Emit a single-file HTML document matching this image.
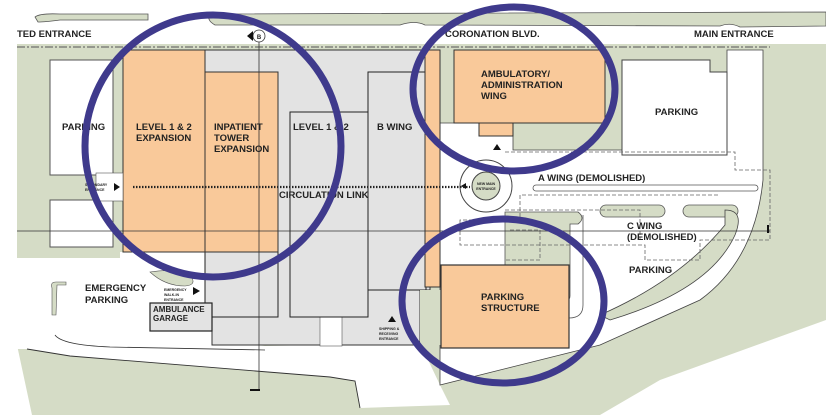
<!DOCTYPE html>
<html><head><meta charset="utf-8"><style>
html,body{margin:0;padding:0;background:#fff;width:826px;height:415px;overflow:hidden}
svg text{font-family:"Liberation Sans",Arial,sans-serif;font-weight:bold;fill:#222}
</style></head><body>
<svg width="826" height="415" viewBox="0 0 826 415" xmlns="http://www.w3.org/2000/svg">
<rect width="826" height="415" fill="#fff"/>
<path d="M35 17 Q40 13 60 14 L148 14 L148 20 L60 20 Q45 22 38 22 Z" fill="#d5dcc6" stroke="#555" stroke-width="0.8"/>
<path d="M210 14 L826 12 L826 26 L740 27 Q730 22 720 26 L425 25 Q415 20 400 25 L215 25 Q206 20 210 14 Z" fill="#d5dcc6" stroke="#555" stroke-width="0.8"/>
<path d="M17 44 L826 44 L826 320 L660 380 L600 415 L32 415 L17 345 Z" fill="#d5dcc6"/>
<path d="M17 258 L120 258 L120 252 L212 252 L212 345 L17 345 Z" fill="#fff"/>
<path d="M17 340 L212 340 L265 346 L420 343 L440 385 L450 405 L360 408 L355 381 L330 377 L70 356 L27 349 L17 349 Z" fill="#fff"/>
<path d="M27 349 L70 356 L330 377 L355 381 L360 408" fill="none" stroke="#333" stroke-width="0.9"/>
<path d="M52 288 Q50 282 56 282 L66 282 L66 285 L57 285 L56 315 L52 315 Z" fill="#d5dcc6" stroke="#555" stroke-width="0.6"/>
<path d="M150 272 Q175 268 190 275 Q198 285 185 286 Q165 286 150 272 Z" fill="#d5dcc6" stroke="#555" stroke-width="0.6"/>
<path d="M55 335 Q62 345 110 347 L265 350" fill="none" stroke="#333" stroke-width="0.8"/>
<path d="M440 123 L513 123 L513 150 L727 150 L727 50 L763 50 L763 180 Q755 260 700 300 L600 345 L440 385 Z" fill="#fff" stroke="#444" stroke-width="0.8"/>
<path d="M50 60 L113 60 L113 175 L50 175 Z" fill="#fff" stroke="#555" stroke-width="1"/>
<path d="M50 200 L113 200 L113 247 L50 247 Z" fill="#fff" stroke="#555" stroke-width="1"/>
<line x1="17" y1="47" x2="770" y2="47" stroke="#555" stroke-width="1" stroke-dasharray="8,2,2,2"/>
<path d="M205 50 L430 50 L430 290 L420 290 L420 345 L212 345 L212 330 L205 330 Z" fill="#e3e3e3" stroke="#333" stroke-width="1"/>
<rect x="320" y="315" width="22" height="31" fill="#fff" stroke="#555" stroke-width="0.6"/>
<rect x="290" y="112" width="78" height="205" fill="#e3e3e3" stroke="#222" stroke-width="1"/>
<rect x="368" y="72" width="58" height="218" fill="#e3e3e3" stroke="#222" stroke-width="1"/>
<rect x="205" y="252" width="73" height="65" fill="#e3e3e3" stroke="#222" stroke-width="1"/>
<rect x="420" y="290" width="21" height="55" fill="#d5dcc6"/>
<rect x="123" y="50" width="82" height="202" fill="#f9c99a" stroke="#333" stroke-width="1"/>
<rect x="205" y="72" width="73" height="180" fill="#f9c99a" stroke="#333" stroke-width="1"/>
<path d="M425 50 L440 50 L440 287 L425 287 Z" fill="#f9c99a" stroke="#333" stroke-width="1"/>
<rect x="454" y="50" width="151" height="73" fill="#f9c99a" stroke="#333" stroke-width="1"/>
<rect x="479" y="123" width="34" height="13" fill="#f9c99a" stroke="#333" stroke-width="1"/>
<rect x="150" y="303" width="62" height="28" fill="#e3e3e3" stroke="#222" stroke-width="1.2"/>
<path d="M622 60 L710 60 L710 72 L727 72 L727 155 L622 155 Z" fill="#fff" stroke="#444" stroke-width="1"/>
<rect x="533" y="185" width="225" height="6" rx="3" fill="#fff" stroke="#555" stroke-width="0.8"/>
<path d="M505 212 L578 212 Q586 218 578 224 L570 224 L570 296 Q570 300 566 300 L566 265 L505 265 Z" fill="#d5dcc6" stroke="#555" stroke-width="0.8"/>
<path d="M583 215 L583 305 Q583 318 569 318" fill="none" stroke="#555" stroke-width="0.8"/>
<rect x="600" y="205" width="65" height="12" rx="6" fill="#d5dcc6" stroke="#555" stroke-width="0.8"/>
<rect x="683" y="205" width="55" height="12" rx="6" fill="#d5dcc6" stroke="#555" stroke-width="0.8"/>
<path d="M725 210 Q745 210 735 235 Q710 290 610 320 L600 315 Q680 280 725 225 Z" fill="#d5dcc6" stroke="#444" stroke-width="0.8"/>
<g fill="none" stroke="#666" stroke-width="0.8" stroke-dasharray="4,2">
<path d="M505 152 L735 152 L735 170 L770 170 L770 240 L700 240 L700 260 L645 260 L645 245 L460 245 L460 220 L520 220 L520 195 L720 195"/>
<path d="M505 210 L640 210 L640 240 M510 230 L540 230 L540 260 L505 260"/>
</g>
<rect x="441" y="265" width="128" height="83" fill="#f9c99a" stroke="#333" stroke-width="1.2"/>
<circle cx="486" cy="186" r="26" fill="#fff" stroke="#444" stroke-width="1"/>
<circle cx="486" cy="186" r="14" fill="#d5dcc6" stroke="#444" stroke-width="1"/>
<text x="486" y="185" font-size="3.5" text-anchor="middle">NEW MAIN</text>
<text x="486" y="190" font-size="3.5" text-anchor="middle">ENTRANCE</text>
<path d="M493 150 L497 144 L501 150 Z M461 186 L466 183 L466 189 Z" fill="#111"/>
<line x1="17" y1="231" x2="770" y2="231" stroke="#333" stroke-width="0.8"/>
<rect x="767" y="225" width="2" height="8" fill="#111"/>
<line x1="259" y1="36" x2="259" y2="390" stroke="#333" stroke-width="0.8"/>
<rect x="250" y="389" width="10" height="2" fill="#111"/>
<line x1="133" y1="187" x2="470" y2="187" stroke="#222" stroke-width="2.2" stroke-dasharray="1.5,1.5"/>
<circle cx="259" cy="36" r="6" fill="#fff" stroke="#333" stroke-width="0.8"/>
<path d="M247 36 L253 31 L253 41 Z" fill="#111"/>
<text x="259" y="39" font-size="6" text-anchor="middle" font-weight="normal">B</text>
<rect x="96" y="173" width="27" height="28" fill="#fff" stroke="#555" stroke-width="0.6"/>
<path d="M114 183 L120 187 L114 191 Z" fill="#111"/>
<path d="M193 287 L200 291 L193 295 Z M388 322 L392 316 L396 322 Z" fill="#111"/>
<g font-size="9.5">
<text x="17" y="37">TED ENTRANCE</text>
<text x="445" y="37">CORONATION BLVD.</text>
<text x="694" y="37">MAIN ENTRANCE</text>
<text x="62" y="130">PARKING</text>
<text x="136" y="130">LEVEL 1 &amp; 2</text>
<text x="136" y="141">EXPANSION</text>
<text x="214" y="130">INPATIENT</text>
<text x="214" y="141">TOWER</text>
<text x="214" y="152">EXPANSION</text>
<text x="293" y="130">LEVEL 1 &amp; 2</text>
<text x="377" y="130">B WING</text>
<text x="279" y="198">CIRCULATION LINK</text>
<text x="481" y="77">AMBULATORY/</text>
<text x="481" y="88">ADMINISTRATION</text>
<text x="481" y="99">WING</text>
<text x="655" y="115">PARKING</text>
<text x="538" y="181">A WING (DEMOLISHED)</text>
<text x="627" y="229">C WING</text>
<text x="627" y="240">(DEMOLISHED)</text>
<text x="629" y="273">PARKING</text>
<text x="481" y="300">PARKING</text>
<text x="481" y="311">STRUCTURE</text>
<text x="85" y="291">EMERGENCY</text>
<text x="85" y="303">PARKING</text>
<text x="153" y="312" font-size="8">AMBULANCE</text>
<text x="153" y="321" font-size="8">GARAGE</text>
</g>
<g font-size="3.5"><text x="85" y="186">SECONDARY</text><text x="85" y="191">ENTRANCE</text>
<text x="164" y="291">EMERGENCY</text><text x="164" y="296">WALK-IN</text><text x="164" y="301">ENTRANCE</text>
<text x="379" y="330">SHIPPING &amp;</text><text x="379" y="335">RECEIVING</text><text x="379" y="340">ENTRANCE</text></g>
<g fill="none" stroke="#3f3a8c" stroke-width="7">
<ellipse cx="213" cy="146" rx="128" ry="131"/>
<ellipse cx="514" cy="89" rx="101" ry="82"/>
<ellipse cx="503" cy="301" rx="101" ry="82"/>
</g>
</svg>
</body></html>
